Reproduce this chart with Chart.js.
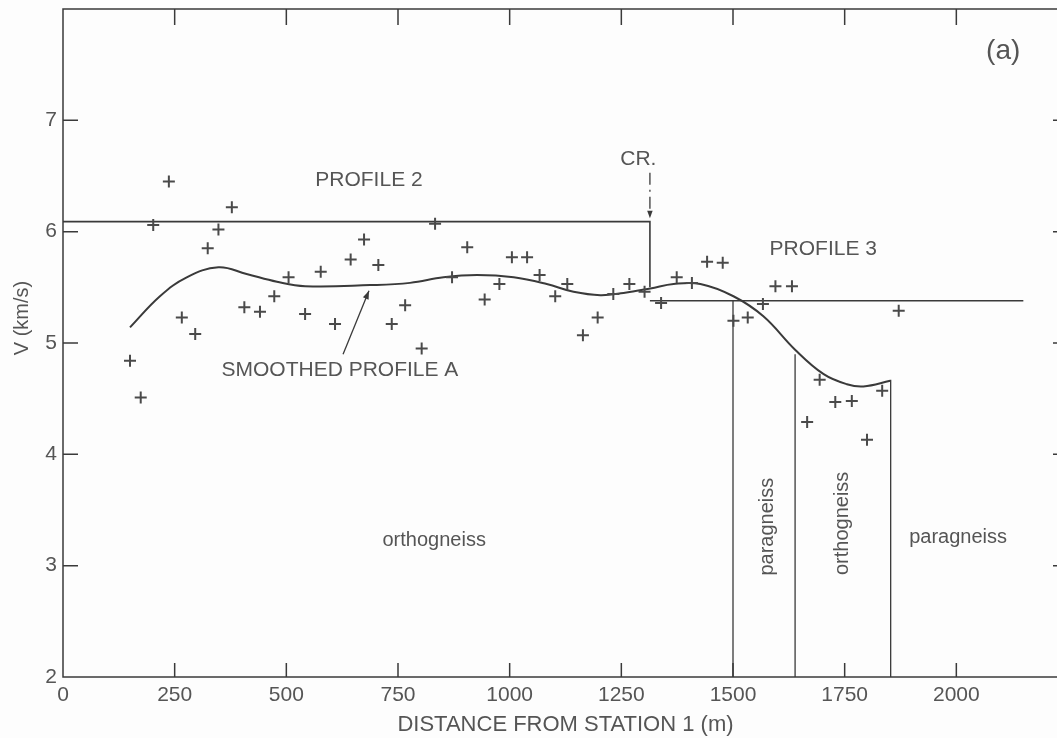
<!DOCTYPE html>
<html lang="en">
<head>
<meta charset="UTF-8">
<title>Velocity along the profile (a)</title>
<script src="https://cdn.jsdelivr.net/npm/chart.js"></script>
<style>
  html, body { margin: 0; padding: 0; background: #fdfdfd; overflow: hidden; }
  #wrap { width: 1080px; height: 738px; }
</style>
</head>
<body>
<div id="wrap"><canvas id="velChart" width="1080" height="738"></canvas></div>
<script>
// measured velocities: distance from station 1 (m) and V (km/s)
const pointDist = [150, 174, 202, 237, 266, 296, 324, 348, 378, 406, 441, 473, 505, 542, 577, 609, 644, 674,
  706, 736, 766, 803, 833, 871, 905, 944, 977, 1005, 1039, 1067, 1102, 1129, 1164, 1197, 1232, 1268, 1302,
  1339, 1374, 1408, 1442, 1477, 1501, 1533, 1567, 1595, 1632, 1666, 1694, 1729, 1766, 1800, 1834, 1871];
const pointVel = [4.84, 4.51, 6.06, 6.45, 5.23, 5.08, 5.85, 6.02, 6.22, 5.32, 5.28, 5.42, 5.59, 5.26, 5.64, 5.17, 5.75, 5.93,
  5.70, 5.17, 5.34, 4.95, 6.07, 5.59, 5.86, 5.39, 5.53, 5.77, 5.77, 5.61, 5.42, 5.53, 5.07, 5.23, 5.44, 5.53, 5.46,
  5.36, 5.59, 5.54, 5.73, 5.72, 5.20, 5.23, 5.35, 5.51, 5.51, 4.29, 4.67, 4.47, 4.48, 4.13, 4.57, 5.29];

// smoothed profile A
const smoothDist = [150, 217, 277, 348, 411, 479, 542, 688, 777, 852, 927, 1009, 1083, 1143, 1203, 1255, 1315,
  1367, 1427, 1501, 1568, 1639, 1703, 1755, 1792, 1852];
const smoothVel = [5.14, 5.42, 5.59, 5.68, 5.62, 5.55, 5.51, 5.52, 5.54, 5.59, 5.61, 5.59, 5.53, 5.46, 5.43, 5.45, 5.49,
  5.53, 5.53, 5.42, 5.24, 4.94, 4.72, 4.63, 4.61, 4.66];

// refraction profiles 2 and 3
const profile2Dist = [0, 1314, 1314];
const profile2Vel = [6.09, 6.09, 5.50];
const profile3Dist = [1314, 2150];
const profile3Vel = [5.38, 5.38];

// rock boundaries (distance, upper end in km/s)
const boundaryDist = [1500, 1639, 1853];
const boundaryTop = [5.38, 4.90, 4.67];

const xTicks = [0, 250, 500, 750, 1000, 1250, 1500, 1750, 2000];
const yTicks = [2, 3, 4, 5, 6, 7];

const INK = '#3a3a3a';
const TEXT = '#555555';
const FONT = '"Liberation Sans", Arial, sans-serif';

// text on the figure: label, distance, velocity, size, rotated
const notes = [
  ['PROFILE 2', 685, 6.46, 21, false],
  ['SMOOTHED PROFILE A', 620, 4.76, 21, false],
  ['PROFILE 3', 1702, 5.84, 21, false],
  ['CR.', 1288, 6.65, 21, false],
  ['(a)', 2105, 7.62, 28, false],
  ['orthogneiss', 831, 3.23, 20, false],
  ['paragneiss', 1577, 3.35, 20, true],
  ['orthogneiss', 1745, 3.38, 20, true],
  ['paragneiss', 2004, 3.25, 20, false]
];

const toXY = (xs, ys) => xs.map((d, i) => ({ x: d, y: ys[i] }));

function lineSet(data, width) {
  return {
    type: 'scatter', data: data, showLine: true, borderColor: INK, borderWidth: width,
    pointRadius: 0, tension: 0, fill: false
  };
}

function arrowHead(ctx, x1, y1, x2, y2, size) {
  const ang = Math.atan2(y2 - y1, x2 - x1);
  ctx.beginPath();
  ctx.moveTo(x2, y2);
  ctx.lineTo(x2 - size * Math.cos(ang - 0.35), y2 - size * Math.sin(ang - 0.35));
  ctx.lineTo(x2 - size * Math.cos(ang + 0.35), y2 - size * Math.sin(ang + 0.35));
  ctx.closePath();
  ctx.fill();
}

const paperPlugin = {
  id: 'paper',
  afterDatasetsDraw(chart) {
    const { ctx, chartArea: a, scales: { x, y } } = chart;
    ctx.save();
    ctx.strokeStyle = INK;
    ctx.fillStyle = INK;
    ctx.lineWidth = 1.5;
    ctx.strokeRect(a.left, a.top, a.right - a.left, a.bottom - a.top);

    // inward ticks on all four sides
    ctx.beginPath();
    xTicks.forEach(t => {
      if (t <= 0) return;
      const px = x.getPixelForValue(t);
      ctx.moveTo(px, a.bottom); ctx.lineTo(px, a.bottom - 14);
      ctx.moveTo(px, a.top); ctx.lineTo(px, a.top + 16);
    });
    yTicks.forEach(t => {
      if (t <= 2) return;
      const py = y.getPixelForValue(t);
      ctx.moveTo(a.left, py); ctx.lineTo(a.left + 15, py);
      ctx.moveTo(a.right, py); ctx.lineTo(a.right - 15, py);
    });
    ctx.stroke();

    // CR. arrow
    const crX = x.getPixelForValue(1314);
    const crTop = y.getPixelForValue(6.53), crBot = y.getPixelForValue(6.12);
    ctx.lineWidth = 1.3;
    ctx.setLineDash([12, 5, 2, 5]);
    ctx.beginPath(); ctx.moveTo(crX, crTop); ctx.lineTo(crX, crBot - 6); ctx.stroke();
    ctx.setLineDash([]);
    arrowHead(ctx, crX, crTop, crX, crBot, 8);

    // arrow to smoothed profile
    const sx1 = x.getPixelForValue(627), sy1 = y.getPixelForValue(4.90);
    const sx2 = x.getPixelForValue(685), sy2 = y.getPixelForValue(5.47);
    ctx.lineWidth = 1.3;
    ctx.beginPath(); ctx.moveTo(sx1, sy1); ctx.lineTo(sx2, sy2); ctx.stroke();
    arrowHead(ctx, sx1, sy1, sx2, sy2, 9);

    // texts
    ctx.fillStyle = TEXT;
    ctx.textAlign = 'center';
    ctx.textBaseline = 'middle';
    notes.forEach(([txt, d, v, size, rot]) => {
      ctx.save();
      ctx.translate(x.getPixelForValue(d), y.getPixelForValue(v));
      if (rot) ctx.rotate(-Math.PI / 2);
      ctx.font = size + 'px ' + FONT;
      ctx.fillText(txt, 0, 0);
      ctx.restore();
    });

    // y axis title
    ctx.save();
    ctx.translate(22, 318);
    ctx.rotate(-Math.PI / 2);
    ctx.font = '20px ' + FONT;
    ctx.fillText('V (km/s)', 0, 0);
    ctx.restore();

    ctx.restore();
  }
};

const ctx = document.getElementById('velChart').getContext('2d');
const velChart = new Chart(ctx, {
  type: 'scatter',
  data: {
    datasets: [
      {
        data: toXY(pointDist, pointVel), pointStyle: 'cross', pointRadius: 6, pointBorderWidth: 2,
        borderColor: '#4a4a4a', backgroundColor: '#4a4a4a'
      },
      Object.assign(lineSet(toXY(smoothDist, smoothVel), 2), { tension: 0.4 }),
      lineSet(toXY(profile2Dist, profile2Vel), 1.6),
      lineSet(toXY(profile3Dist, profile3Vel), 1.6),
      ...boundaryDist.map((d, i) => lineSet([{ x: d, y: boundaryTop[i] }, { x: d, y: 2 }], 1.3))
    ]
  },
  options: {
    responsive: false,
    devicePixelRatio: 1,
    animation: false,
    layout: { padding: { top: 9, right: 12, bottom: 0, left: 0 } },
    plugins: { legend: { display: false }, tooltip: { enabled: false } },
    scales: {
      x: {
        type: 'linear', min: 0, max: 2250,
        afterBuildTicks: s => { s.ticks = xTicks.map(v => ({ value: v })); },
        afterFit: s => { s.height = 61; s.paddingLeft = 0; s.paddingRight = 0; },
        grid: { display: false, drawTicks: false },
        border: { display: false },
        ticks: {
          color: TEXT, font: { family: FONT, size: 21 }, padding: 6, maxRotation: 0,
          callback: v => String(v)
        },
        title: {
          display: true, text: 'DISTANCE FROM STATION 1 (m)', color: TEXT,
          font: { family: FONT, size: 22 }, padding: { top: 0, bottom: 0 }
        }
      },
      y: {
        type: 'linear', min: 2, max: 8,
        afterBuildTicks: s => { s.ticks = yTicks.map(v => ({ value: v })); },
        afterFit: s => { s.width = 63; s.paddingTop = 0; s.paddingBottom = 0; },
        grid: { display: false, drawTicks: false },
        border: { display: false },
        ticks: { color: TEXT, font: { family: FONT, size: 21 }, padding: 6, callback: v => String(v) }
      }
    }
  },
  plugins: [paperPlugin]
});
</script>
</body>
</html>
